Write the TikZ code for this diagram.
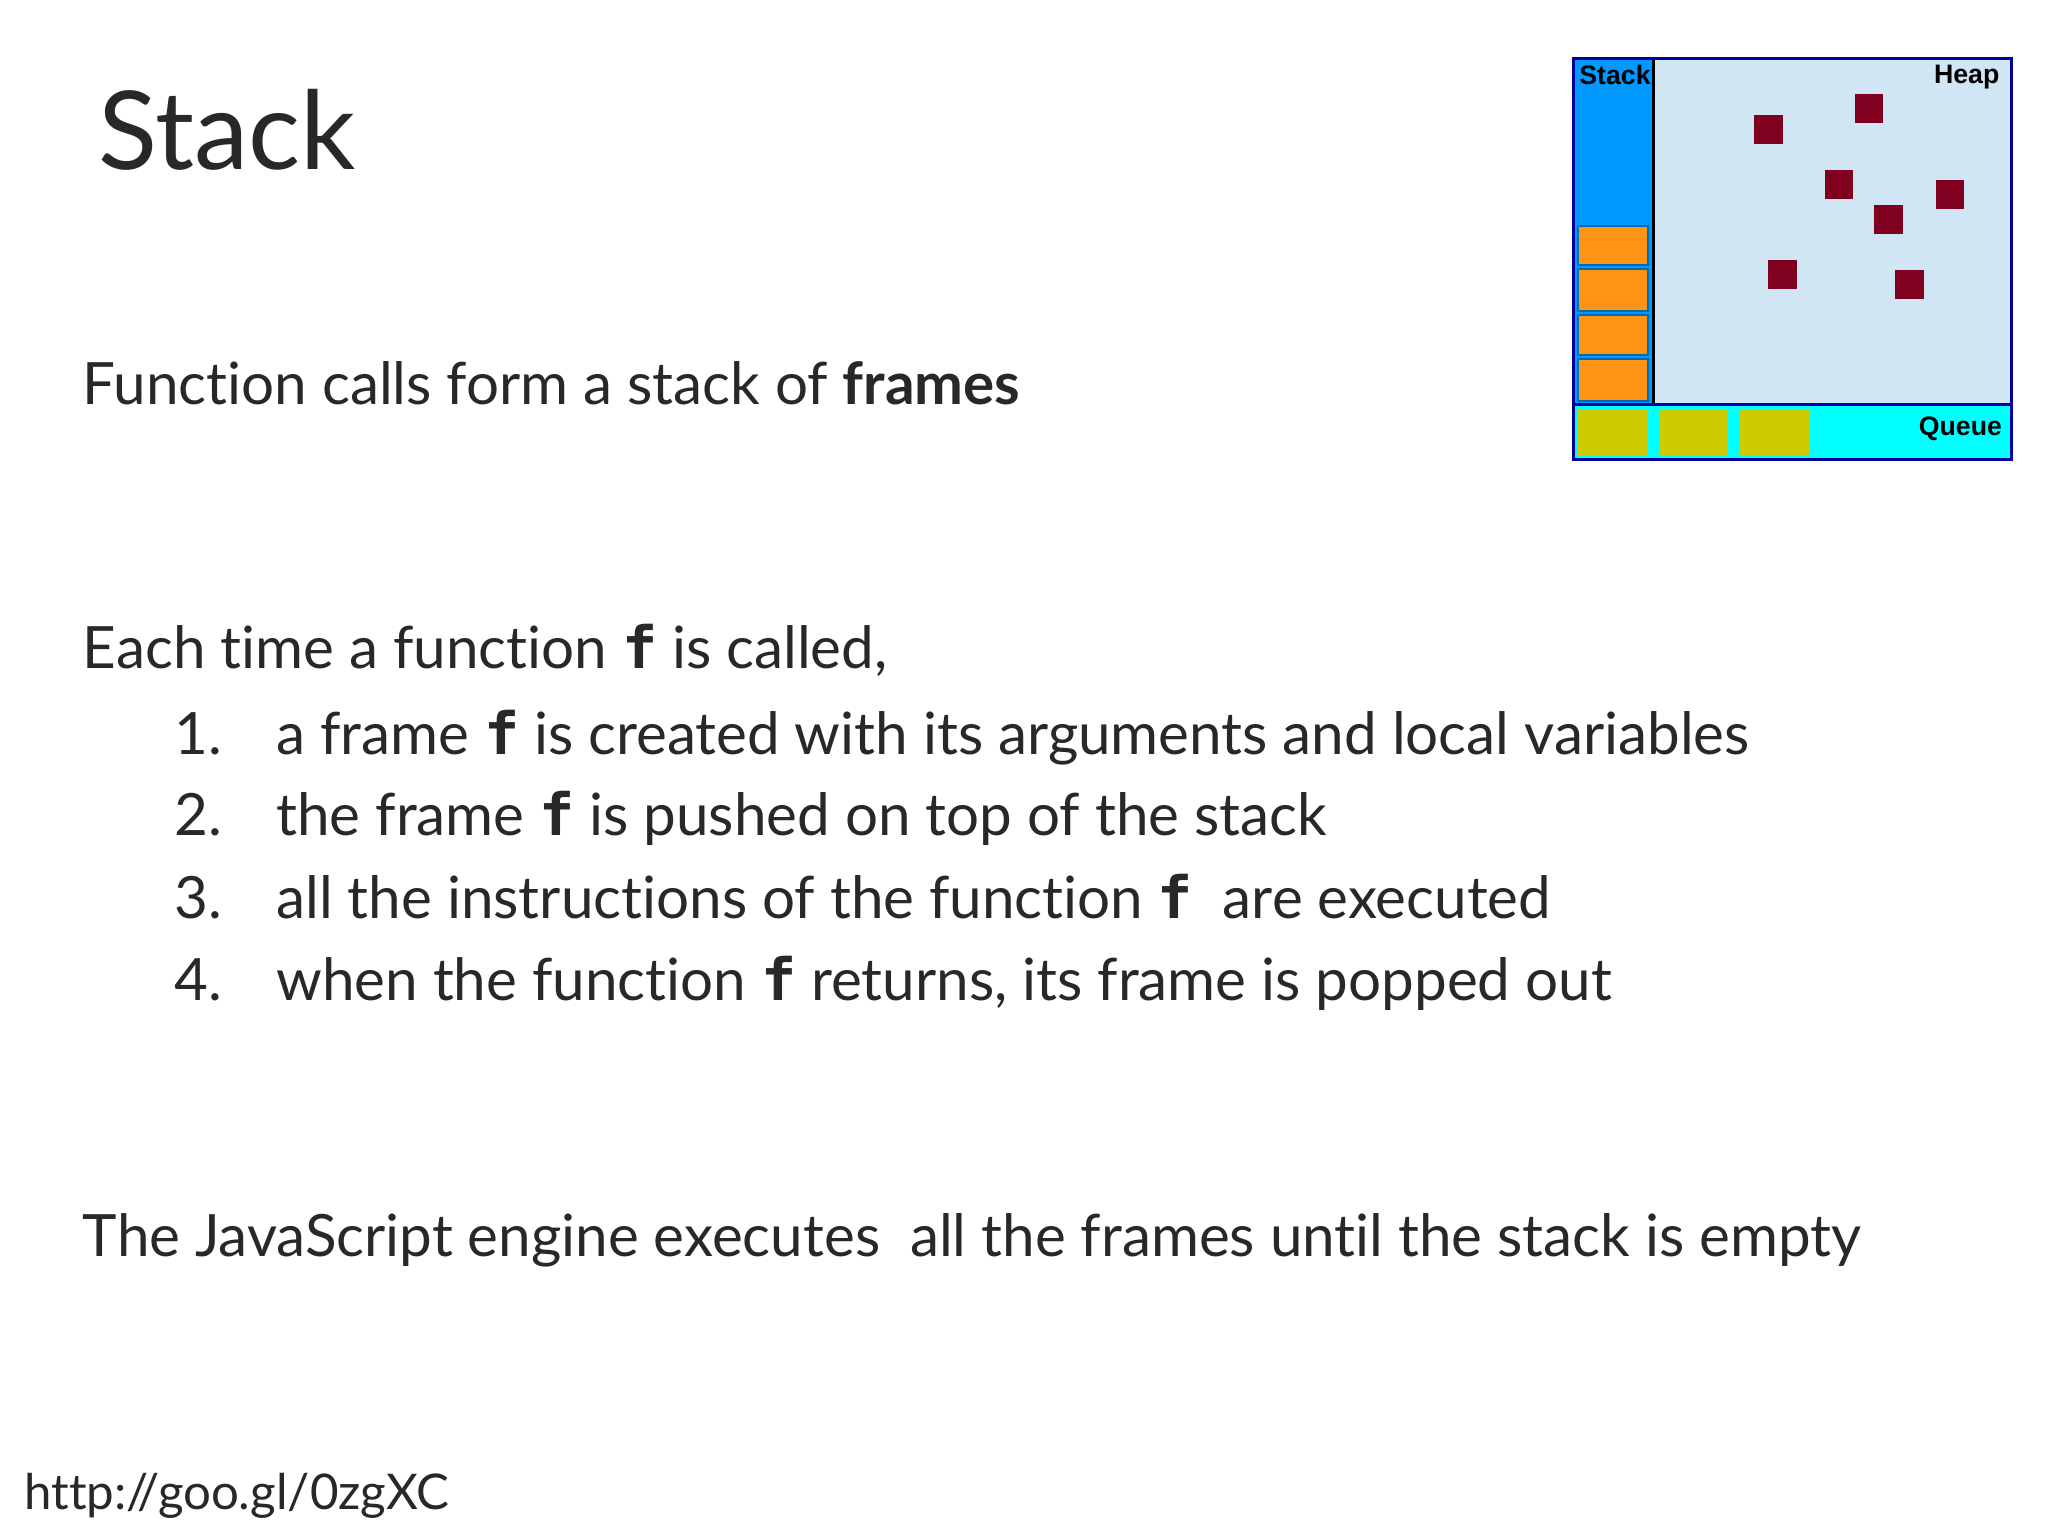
\documentclass[tikz,border=0pt]{standalone}
\usepackage{fontspec}
\setmainfont{Lato}[RawFeature=-liga]
\setmonofont{DejaVu Sans Mono}
\newfontfamily\widgetfont{Liberation Sans}
\definecolor{stackblue}{RGB}{0,153,255}
\definecolor{heapblue}{RGB}{208,230,245}
\definecolor{queuecyan}{RGB}{0,255,255}
\definecolor{frameor}{RGB}{255,148,20}
\definecolor{qyel}{RGB}{204,204,0}
\definecolor{objred}{RGB}{128,0,32}
\definecolor{txt}{RGB}{40,40,40}
\begin{document}
\begin{tikzpicture}[x=0.01306cm,y=-0.01306cm,
  body/.style={anchor=base west,inner sep=0pt,font=\fontsize{16.6}{20}\selectfont,text=txt},
  frame/.style={fill=frameor,draw=stackblue!70!black,line width=0.6pt},
  qbox/.style={fill=qyel},
  obj/.style={fill=objred,minimum size=22*0.01306cm,inner sep=0pt},
  wlab/.style={font=\widgetfont\bfseries\fontsize{7.6}{9}\selectfont,inner sep=1pt}]
\useasboundingbox (0,0) rectangle (1568,1176);
\newcommand{\ff}{{\ttfamily\bfseries f}}
\node[body,font=\fontsize{31}{36}\selectfont] (title) at (75,130) {Stack};
\node[body] (l1) at (63,310) {Function calls form a stack of \textbf{frames}};
\node[body] (l2) at (63,512) {Each time a function \ff\ is called,};
\node[body] (n1) at (133,578) {1.};
\node[body] (t1) at (211,578) {a frame \ff\ is created with its arguments and local variables};
\node[body] (n2) at (133,640) {2.};
\node[body] (t2) at (211,640) {the frame \ff\ is pushed on top of the stack};
\node[body] (n3) at (133,703) {3.};
\node[body] (t3) at (211,703) {all the instructions of the function \ff\ \ are executed};
\node[body] (n4) at (133,766) {4.};
\node[body] (t4) at (211,766) {when the function \ff\ returns, its frame is popped out};
\node[body] (l3) at (63,962) {The JavaScript engine executes \ all the frames until the stack is empty};
\node[body,font=\fontsize{14}{17}\selectfont] (url) at (18,1156) {http://goo.gl/0zgXC};
% widget
\fill[heapblue] (1266,45) rectangle (1540,310);
\fill[queuecyan] (1205,310) rectangle (1540,352);
\fill[stackblue] (1205,45) rectangle (1266,310);
\draw[line width=0.8pt] (1266,45) -- (1266,310);
\draw[blue!70!black,line width=0.8pt] (1205,310) -- (1540,310);
\draw[blue!60!black,line width=0.8pt] (1205,45) rectangle (1540,352);
\foreach \a/\b in {173/203,206/238,241/272,275/307}
  \draw[frame] (1208,\a) rectangle (1262,\b);
\foreach \a/\b in {1208/1262,1270/1323,1332/1385}
  \fill[qbox] (\a,314) rectangle (\b,349);
\foreach \i/\p in {1/{1354,99},2/{1431,83},3/{1408,141},4/{1493,149},5/{1446,168},6/{1365,210},7/{1462,218}}
  \node[obj] (o\i) at (\p) {};
\node[wlab,anchor=north west] (sl) at (1206,47) {Stack};
\node[wlab,anchor=north east] (hl) at (1534,47) {Heap};
\node[wlab,anchor=east] (ql) at (1536,328) {Queue};
\end{tikzpicture}
\end{document}
